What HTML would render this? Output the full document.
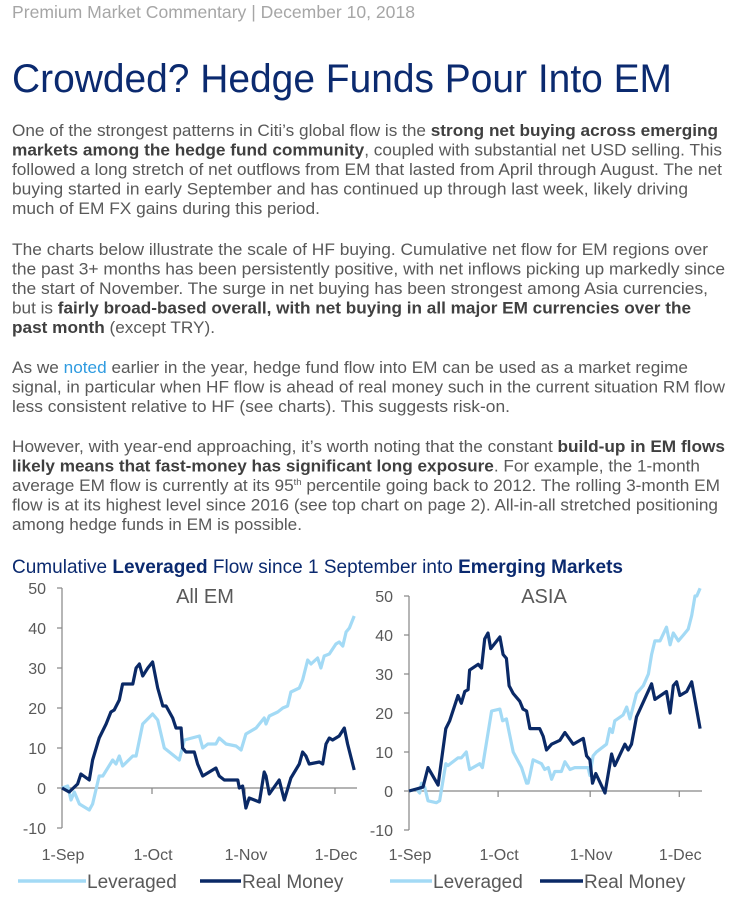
<!DOCTYPE html>
<html><head><meta charset="utf-8"><style>
html,body{margin:0;padding:0;background:#fff;width:750px;height:901px;overflow:hidden}
svg{display:block}
.t{font-family:"Liberation Sans",Arial,sans-serif;font-size:16.5px;fill:#595959}
.b{font-weight:bold;fill:#404040}
.ax{font-family:"Liberation Sans",Arial,sans-serif;font-size:16px;fill:#595959}
</style></head><body>
<svg id="page" width="750" height="901" viewBox="0 0 750 901">
<text class="t" x="12" y="18" textLength="403" lengthAdjust="spacingAndGlyphs" style="fill:#a6a6a6;font-size:17.5px">Premium Market Commentary  |  December 10, 2018</text>
<text x="12" y="92" textLength="660" lengthAdjust="spacingAndGlyphs" style="font-family:'Liberation Sans',Arial,sans-serif;font-size:40px;fill:#0b2a6f">Crowded? Hedge Funds Pour Into EM</text>
<g>
<text class="t" x="12" y="136" textLength="706" lengthAdjust="spacingAndGlyphs">One of the strongest patterns in Citi’s global flow is the <tspan class="b">strong net buying across emerging</tspan></text>
<text class="t" x="12" y="155.5" textLength="710" lengthAdjust="spacingAndGlyphs"><tspan class="b">markets among the hedge fund community</tspan>, coupled with substantial net USD selling. This</text>
<text class="t" x="12" y="175" textLength="710" lengthAdjust="spacingAndGlyphs">followed a long stretch of net outflows from EM that lasted from April through August. The net</text>
<text class="t" x="12" y="194.5" textLength="676" lengthAdjust="spacingAndGlyphs">buying started in early September and has continued up through last week, likely driving</text>
<text class="t" x="12" y="214" textLength="308" lengthAdjust="spacingAndGlyphs">much of EM FX gains during this period.</text>
</g>
<g>
<text class="t" x="12" y="255" textLength="696" lengthAdjust="spacingAndGlyphs">The charts below illustrate the scale of HF buying. Cumulative net flow for EM regions over</text>
<text class="t" x="12" y="274.5" textLength="713" lengthAdjust="spacingAndGlyphs">the past 3+ months has been persistently positive, with net inflows picking up markedly since</text>
<text class="t" x="12" y="294" textLength="696" lengthAdjust="spacingAndGlyphs">the start of November. The surge in net buying has been strongest among Asia currencies,</text>
<text class="t" x="12" y="313.5" textLength="679" lengthAdjust="spacingAndGlyphs">but is <tspan class="b">fairly broad-based overall, with net buying in all major EM currencies over the</tspan></text>
<text class="t" x="12" y="333" textLength="203" lengthAdjust="spacingAndGlyphs"><tspan class="b">past month</tspan> (except TRY).</text>
</g>
<g>
<text class="t" x="12" y="373" textLength="676" lengthAdjust="spacingAndGlyphs">As we <tspan style="fill:#2f9be0">noted</tspan> earlier in the year, hedge fund flow into EM can be used as a market regime</text>
<text class="t" x="12" y="392.5" textLength="713" lengthAdjust="spacingAndGlyphs">signal, in particular when HF flow is ahead of real money such in the current situation RM flow</text>
<text class="t" x="12" y="412" textLength="498" lengthAdjust="spacingAndGlyphs">less consistent relative to HF (see charts). This suggests risk-on.</text>
</g>
<g>
<text class="t" x="12" y="452" textLength="713" lengthAdjust="spacingAndGlyphs">However, with year-end approaching, it’s worth noting that the constant <tspan class="b">build-up in EM flows</tspan></text>
<text class="t" x="12" y="471.5" textLength="688" lengthAdjust="spacingAndGlyphs"><tspan class="b">likely means that fast-money has significant long exposure</tspan>. For example, the 1-month</text>
<text class="t" x="12" y="491" textLength="708" lengthAdjust="spacingAndGlyphs">average EM flow is currently at its 95<tspan dy="-6" style="font-size:9px">th</tspan><tspan dy="6"> percentile going back to 2012. The rolling 3-month EM</tspan></text>
<text class="t" x="12" y="510.5" textLength="706" lengthAdjust="spacingAndGlyphs">flow is at its highest level since 2016 (see top chart on page 2). All-in-all stretched positioning</text>
<text class="t" x="12" y="530" textLength="290" lengthAdjust="spacingAndGlyphs">among hedge funds in EM is possible.</text>
</g>
<text x="12" y="573" textLength="611" lengthAdjust="spacingAndGlyphs" style="font-family:'Liberation Sans',Arial,sans-serif;font-size:19.5px;fill:#0b2a6f">Cumulative <tspan font-weight="bold">Leveraged</tspan> Flow since 1 September into <tspan font-weight="bold">Emerging Markets</tspan></text>
<g id="charts"></g>
</svg>
<script>
// All EM
const emLevDays=[0,1.9,3,4.1,5.8,9.1,10.2,12.4,13.6,16.9,18,19.1,20.2,23.6,24.7,26.9,30.2,31.9,34.1,39.1,40.8,45.8,46.9,48.6,51.3,52.4,54.7,58,59.7,61.3,64.7,67.4,68,69.1,71.9,73.6,75.2,76.3,79.1,80.2,81.9,83,85.2,86.3,87.4,89.1,91.3,92.4,93.6,94.7,95.8,97.4];
const emLevVals=[0,0.5,-3,-1,-4,-5.5,-4,3,3,7,6,8,5.5,8,8,16,18.5,17,10,7,12,13,10,11,11,12.5,11,10.5,9.5,13.5,15,17.5,16,18,19,20,20.5,24,25,27,32,31,32.5,30,33,33.5,36,36.5,35.5,39,40,43];
const emRmDays=[0,2.4,5.2,6.3,9.1,10.2,12.4,14.7,16.3,17.4,19.1,20.2,23.6,24.7,25.8,26.9,28.6,30.2,31.9,33.6,34.7,36.9,38,39.7,40.2,41.3,44.1,45.2,46.9,51.3,52.4,54.1,55.8,58.6,59.1,60.2,61.3,62.4,65.8,67.4,68,69.1,72.4,74.1,76.3,79.1,80.2,81.3,82.4,85.8,86.9,88,89.1,90.2,92.4,94.1,95.2,97.4];
const emRmVals=[0,-1,1,3.5,2,7,12.5,16,19,19.5,22,26,26,30,31,28,30,31.5,25,20.5,20.5,17.5,15,15,10,9,9,6,3,5,3,2,2,2,0,0.5,-5,-2.5,-3.5,4,3,-1.5,2,-3,2.5,6,9,8,6,6.5,6,11,12.5,12,13,15,11,4.5];
// Asia
const asLevDays=[0,2.5,3.6,4.2,5.3,6.4,9.2,10.3,12.4,13.1,16.5,17.6,19.3,20.4,23.8,24.7,27.8,30.6,31.5,32.8,35.1,37.9,39.6,40.1,40.7,41.8,44.6,45.7,46.9,48,49.1,51.3,52.5,54.2,55.8,60.3,60.9,62,63.1,66.5,67.6,68.5,69.3,72.1,73.3,74.4,76.6,78.9,80.6,81.7,82.8,84.5,86.7,87.9,89,90.7,92.4,94,95.2,96.3,96.9,98];
const asLevVals=[0,0.5,-0.5,2,1,-2.5,-3,-2.5,7,6.5,8.5,8.5,10,5.5,7,6,20.5,21,18,18.5,10,6,2,2,4,8,7,5.5,6,3,5,5,7.5,5.5,6,6,4,9,10,12,16,15,18,19.5,21.5,18.5,25,27,30,35,38.5,38.5,42,37.5,40.5,38.5,40,41.5,45,50,50,52];
const asRmDays=[0,2.5,4.7,6.4,9.8,12.4,13.7,16.5,17.6,18.8,19.9,20.4,23.3,24.4,25.5,26.6,27.5,30.6,31.7,32.8,33.7,35.1,37.3,38.4,39.6,40.7,44,45.2,46.3,48,50.8,52.5,55.3,58.7,59.8,60.9,61.8,62.9,66,68.2,69.3,72.7,73.8,74.9,76.6,81.7,82.8,86.7,87.9,89,90.1,91.2,93.5,95.2,98];
const asRmVals=[0,0.5,1,6,1.5,16,18,24.5,22.5,25.5,26,31,32.5,31.5,39,40.5,36.5,39.5,35,34,27,25,23,21,20.5,16,16,14,10.5,12,13,15,12,13.5,9,8,2,4.5,-0.5,9.5,6.5,12,10.5,12,19,27.5,23.5,25.5,20,27,28,24.5,25.5,28,16];
const yTicks=[50,40,30,20,10,0,-10];
const monthLabels=['1-Sep','1-Oct','1-Nov','1-Dec'];
const monthDays=[0,30,61,91];
const seriesNames=['Leveraged','Real Money'];

const NS='http://www.w3.org/2000/svg';
const root=document.getElementById('charts');
function mk(tag,attrs,parent){const e=document.createElementNS(NS,tag);for(const k in attrs)e.setAttribute(k,attrs[k]);(parent||root).appendChild(e);return e;}

function chart(cfg){
  const g=mk('g',{});
  
  
  const xs=d=>cfg.x0+d*cfg.dx;
  const ys=v=>cfg.y0-v*cfg.dy;
  const t=mk('text',{x:cfg.titleX,y:603,'text-anchor':'middle',class:'ax',style:'font-size:20px'},g);
  t.textContent=cfg.title;
  
  
  const ya=mk('line',{x1:cfg.x0,x2:cfg.x0,y1:ys(50),y2:ys(-10),stroke:'#868686','stroke-width':1.2},g);
  
  
  yTicks.forEach(v=>{
    mk('line',{x1:cfg.x0-5,x2:cfg.x0,y1:ys(v),y2:ys(v),stroke:'#868686','stroke-width':1.2},g);
    const l=mk('text',{x:cfg.x0-16,y:ys(v)+6,'text-anchor':'end',class:'ax'},g);
    l.textContent=v;
    
    
  });
  const xa=mk('line',{x1:cfg.x0,x2:cfg.xEnd,y1:ys(0),y2:ys(0),stroke:'#868686','stroke-width':1.2},g);
  
  
  monthDays.forEach((d,i)=>{
    if(i>0) mk('line',{x1:xs(d),x2:xs(d),y1:ys(0),y2:ys(0)+6,stroke:'#868686','stroke-width':1.2},g);
    const l=mk('text',{x:xs(d)+1,y:860,'text-anchor':'middle',class:'ax'},g);
    l.textContent=monthLabels[i];
    
    
  });
  const series=[[cfg.levD,cfg.levV,'#a3daf5'],[cfg.rmD,cfg.rmV,'#0a2966']];
  series.forEach((s,i)=>{
    const pts=s[0].map((d,j)=>xs(d).toFixed(1)+','+ys(s[1][j]).toFixed(1)).join(' ');
    const p=mk('polyline',{points:pts,fill:'none',stroke:s[2],'stroke-width':3.2,'stroke-linejoin':'round'},g);
    
    
  });
  cfg.leg.forEach((lg,i)=>{
    mk('line',{x1:lg[0],x2:lg[1],y1:881,y2:881,stroke:i?'#0a2966':'#a3daf5','stroke-width':3.5},g);
    const l=mk('text',{x:lg[1]+1,y:888,class:'ax',style:'font-size:19px'},g);
    l.textContent=seriesNames[i];
    
    
  });
}
chart({name:'all-em-chart',title:'All EM',titleX:205,x0:62,dx:3.0,y0:788,dy:4.0,xEnd:357,levD:emLevDays,levV:emLevVals,rmD:emRmDays,rmV:emRmVals,leg:[[18,86],[200,241]]});
chart({name:'asia-chart',title:'ASIA',titleX:544,x0:409,dx:2.97,y0:791,dy:3.9,xEnd:702,levD:asLevDays,levV:asLevVals,rmD:asRmDays,rmV:asRmVals,leg:[[390,432],[540,583]]});
</script>
</body></html>
